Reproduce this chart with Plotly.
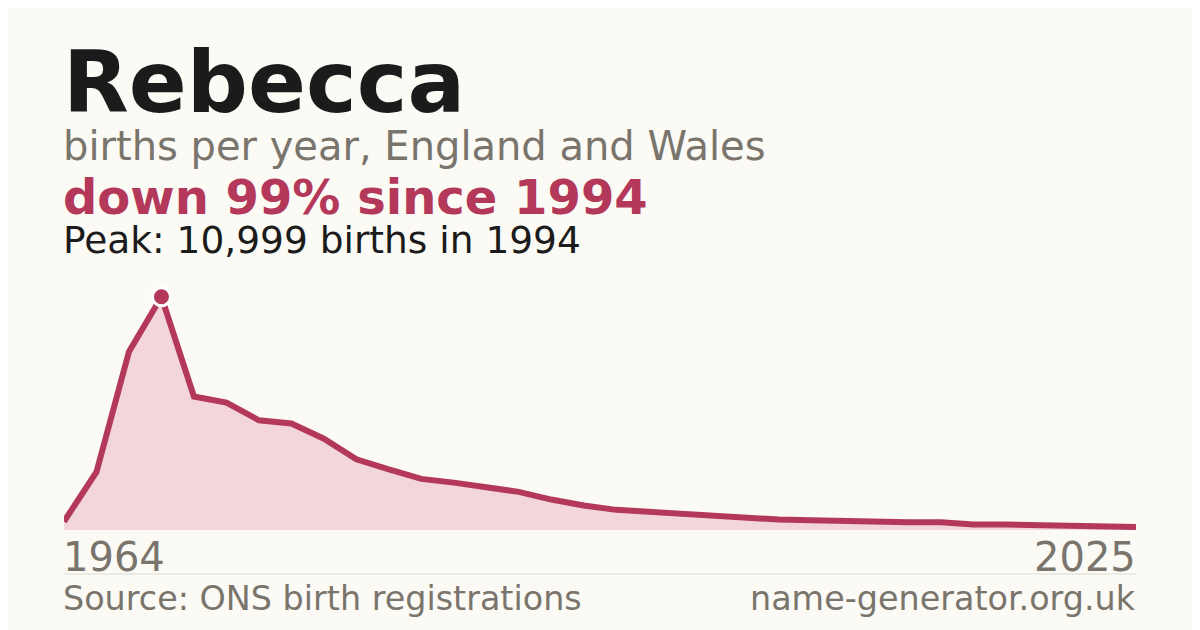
import plotly.graph_objects as go

# ONS publishes decade snapshots up to 1994, then yearly from 1996
years = [1964, 1974, 1984, 1994] + list(range(1996, 2026))
births = [400, 2738, 8412, 10999, 6295, 6013, 5175, 5025, 4305, 3331,
          2861, 2409, 2235, 2047, 1797, 1435, 1153, 950, 856, 776,
          668, 555, 494, 461, 414, 400, 367, 367, 259, 259,
          212, 165, 165, 141]
peak_year = "1994"
peak_births = 10999

name = "Rebecca"
subtitle = "births per year, England and Wales"
headline = "down 99% since 1994"
peak_text = "Peak: 10,999 births in 1994"
source_text = "Source: ONS birth registrations"
site_text = "name-generator.org.uk"

x_labels = [str(y) for y in years]

BG = "#fbfaf5"
INK = "#1b1b1b"
GREY = "#7a756c"
RED = "#b3385a"
FILL = "rgb(242,214,220)"
FONT = "DejaVu Sans"

# the page body has an 8px margin, so the figure is pulled back by that much
OFF = 8

area = go.Scatter(
    x=x_labels, y=births,
    mode="lines",
    line=dict(color=RED, width=6),
    fill="tozeroy",
    fillcolor=FILL,
    hoverinfo="x+y",
    showlegend=False,
)

peak = go.Scatter(
    x=[peak_year], y=[peak_births],
    mode="markers",
    marker=dict(color=RED, size=18, line=dict(color="white", width=3)),
    hoverinfo="skip",
    showlegend=False,
)


def ypx(px):
    # paper coordinate for a screen pixel row (plot area spans rows 280..530)
    return (530 - px) / 250


def note(text, x, y, size, color, bold=False, xanchor="left", xref="paper"):
    if bold:
        text = "<b>" + text + "</b>"
    shift = -3 if xanchor == "left" else 2
    return dict(text=text, x=x, y=y, xref=xref, yref="paper",
                xanchor=xanchor, yanchor="middle", showarrow=False,
                xshift=shift,
                font=dict(family=FONT, size=size, color=color))


annotations = [
    note(name, 0, ypx(112 - 0.346 * 85.5), 85.5, INK, bold=True),
    note(subtitle, 0, ypx(160 - 0.346 * 40), 40, GREY),
    note(headline, 0, ypx(214 - 0.346 * 48), 48, RED, bold=True),
    note(peak_text, 0, ypx(253 - 0.346 * 37.5), 37.5, INK),
    note(x_labels[0], 0, ypx(571 - 0.346 * 40), 40, GREY, xref="x"),
    note(x_labels[-1], len(years) - 1, ypx(571 - 0.346 * 40), 40, GREY,
         xanchor="right", xref="x"),
    note(source_text, 0, ypx(610 - 0.346 * 33.4), 33.4, GREY),
    note(site_text, 1, ypx(610 - 0.346 * 33.4), 33.4, GREY, xanchor="right"),
]

layout = dict(
    width=1200,
    height=630,
    paper_bgcolor=BG,
    plot_bgcolor=BG,
    margin=dict(l=64 - OFF, r=64 + OFF, t=280 - OFF, b=100 + OFF, pad=0),
    font=dict(family=FONT),
    xaxis=dict(type="category", range=[0, len(years) - 1],
               showgrid=False, zeroline=False, showline=False,
               showticklabels=False, ticks=""),
    yaxis=dict(range=[0, 11790], showgrid=False, zeroline=False,
               showline=False, showticklabels=False, ticks=""),
    annotations=annotations,
    shapes=[dict(type="line", xref="paper", yref="paper",
                 x0=0, x1=1, y0=ypx(574), y1=ypx(574),
                 line=dict(color="rgb(221,218,212)", width=1))],
)

fig = go.Figure(data=[area, peak], layout=layout)
fig.write_html("out.html")
